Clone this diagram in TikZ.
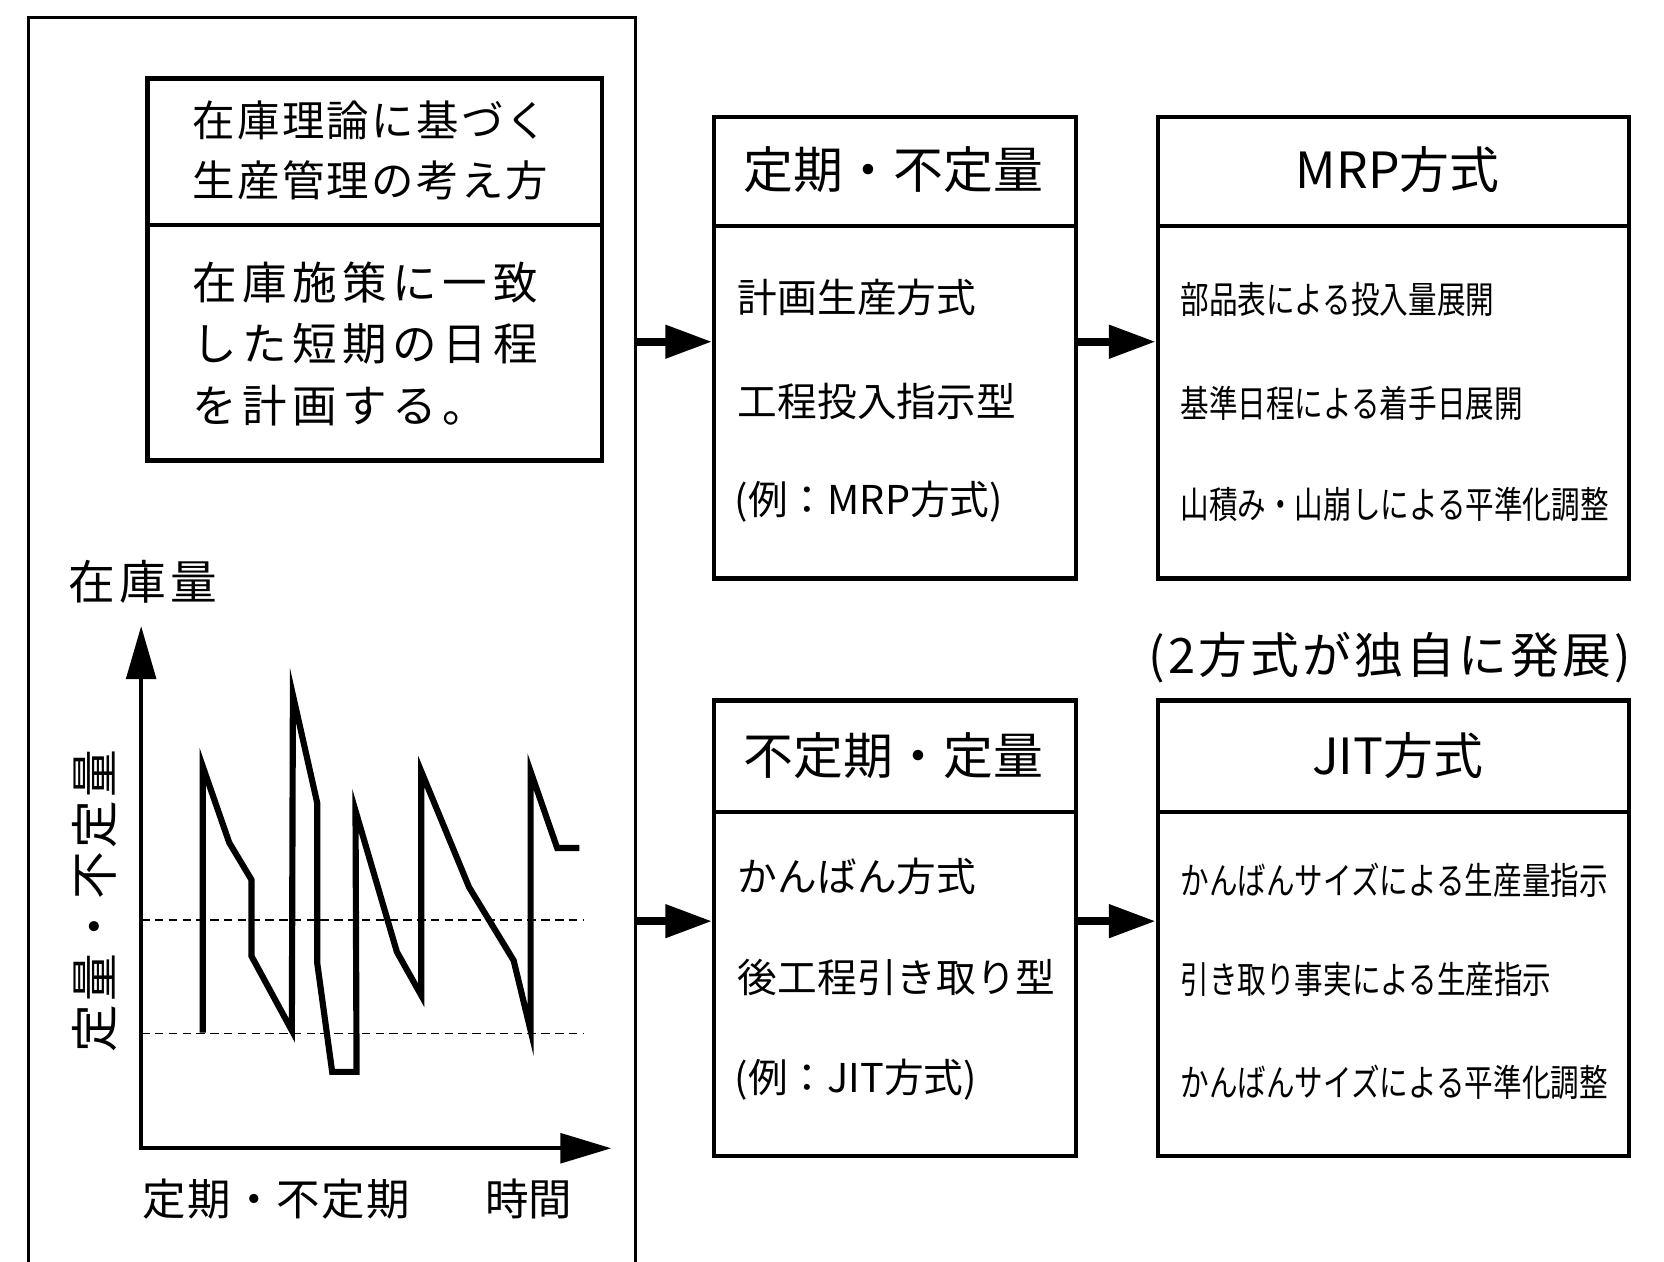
\documentclass[tikz,border=0pt]{standalone}
\usepackage{fontspec}
\usepackage{graphicx}
\setmainfont{Noto Sans CJK JP}
\usetikzlibrary{arrows.meta}
\makeatletter
\newcommand\trk[2]{\def\trk@gap{#1}\trk@loop#2\relax}
\def\trk@loop#1{\ifx#1\relax\else#1\hspace{\trk@gap}\expandafter\trk@loop\fi}
\makeatother
\newcommand\fsz[1]{\fontsize{#1}{#1}\selectfont}
\newcommand\cond[1]{\scalebox{0.77}[1]{\fsz{17.5pt}#1}}
\tikzset{
  boxline/.style={line width=2pt},
  frame/.style={draw, line width=2pt, inner sep=0pt, anchor=north west},
  txt/.style={inner sep=0pt, anchor=west},
  conn/.style={line width=3.8pt, -{Triangle[length=22pt,width=15pt]}},
  axis/.style={line width=1.8pt, {Triangle[length=25pt,width=14pt]}-{Triangle[length=24pt,width=14pt]}},
  zig/.style={line width=2.9pt, line join=miter},
  refline/.style={line width=0.6pt, dash pattern=on 4pt off 2.5pt},
}
\begin{document}
\begin{tikzpicture}[x=0.5pt,y=-0.5pt]
\useasboundingbox (0,0) rectangle (1568,1189);
\fill[white] (0,0) rectangle (1568,1189);
% outer frame (bottom edge beyond the page)
\node[draw, line width=1.6pt, inner sep=0pt, anchor=north west, minimum width=286pt, minimum height=622pt] (outer) at (25,15) {};
% left inner box
\node[frame, minimum width=214pt, minimum height=180pt] (A) at (137,72) {};
\draw[boxline] (A.west |- 0,212) -- (A.east |- 0,212);
\node[txt] (a1) at (181,113) {\fsz{20pt}\trk{1.1pt}{在庫理論に基づく}};
\node[txt] (a2) at (181,170) {\fsz{20pt}\trk{1.1pt}{生産管理の考え方}};
\node[txt] (a3) at (181,266) {\fsz{21pt}\trk{2.6pt}{在庫施策に一致}};
\node[txt] (a4) at (181,324) {\fsz{21pt}\trk{2.6pt}{した短期の日程}};
\node[txt] (a5) at (181,382) {\fsz{21pt}\trk{2.6pt}{を計画する。}};
% graph
\node[txt] (ylab) at (64,548) {\fsz{22pt}\trk{2pt}{在庫量}};
\node[inner sep=0pt, rotate=90] (yside) at (89,849) {\fsz{22.5pt}\trk{1.5pt}{定量・不定量}};
\node[txt] (xlab) at (134,1130) {\fsz{20.5pt}\trk{0.6pt}{定期・不定期}};
\node[txt] (tlab) at (457,1130) {\fsz{20.5pt}時間};
\coordinate (O) at (133,1082);
\coordinate (ytip) at (133,590);
\coordinate (xtip) at (576,1082);
\draw[refline] (133,867) -- (550,867);
\draw[refline] (133,974) -- (550,974);
\draw[axis] (ytip) -- (O) -- (xtip);
\draw[zig] (191,973) -- (191,722) -- (216,794) -- (237,829) -- (237,901) -- (275,971)
  -- (276,655) -- (299,757) -- (299,908) -- (313,1010) -- (336,1010) -- (335,764)
  -- (374,897) -- (397,938) -- (397,727) -- (442,836) -- (484,905) -- (500,971)
  -- (500,727) -- (525,799) -- (546,799);
% right boxes
\node[frame, minimum width=170.5pt, minimum height=217.5pt] (B) at (671,108) {};
\node[frame, minimum width=222pt, minimum height=217.5pt] (C) at (1089,108) {};
\node[frame, minimum width=170.5pt, minimum height=214.5pt] (D) at (671,658) {};
\node[frame, minimum width=222pt, minimum height=214.5pt] (E) at (1089,658) {};
\draw[boxline] (B.west |- 0,213) -- (B.east |- 0,213);
\draw[boxline] (C.west |- 0,213) -- (C.east |- 0,213);
\draw[boxline] (D.west |- 0,765) -- (D.east |- 0,765);
\draw[boxline] (E.west |- 0,765) -- (E.east |- 0,765);
\node[inner sep=0pt] (bh) at (842,160) {\fsz{23.5pt}定期・不定量};
\node[inner sep=0pt] (ch) at (1317,160) {\fsz{23.5pt}MRP方式};
\node[inner sep=0pt] (dh) at (842,712) {\fsz{23.5pt}不定期・定量};
\node[inner sep=0pt] (eh) at (1317,712) {\fsz{23.5pt}JIT方式};
\node[txt] (b1) at (695,280) {\fsz{18.7pt}計画生産方式};
\node[txt] (b2) at (695,378) {\fsz{18.7pt}工程投入指示型};
\node[txt] (b3) at (692,473) {\fsz{18.7pt}(例：MRP方式)};
\node[txt] (d1) at (695,826) {\fsz{18.7pt}かんばん方式};
\node[txt] (d2) at (695,921) {\fsz{18.7pt}後工程引き取り型};
\node[txt] (d3) at (692,1017) {\fsz{18.7pt}(例：JIT方式)};
\node[txt] (c1) at (1112,282) {\cond{部品表による投入量展開}};
\node[txt] (c2) at (1112,380) {\cond{基準日程による着手日展開}};
\node[txt] (c3) at (1112,475) {\cond{山積み・山崩しによる平準化調整}};
\node[txt] (e1) at (1112,829) {\cond{かんばんサイズによる生産量指示}};
\node[txt] (e2) at (1112,923) {\cond{引き取り事実による生産指示}};
\node[txt] (e3) at (1112,1020) {\cond{かんばんサイズによる平準化調整}};
\node[inner sep=0pt] (note) at (1310,620) {\fsz{23pt}\trk{1.5pt}{(2方式が独自に発展)}};
% connectors
\coordinate (up) at (0,322);
\coordinate (lo) at (0,868);
\draw[conn] (outer.east |- up) -- (B.west |- up);
\draw[conn] (B.east |- up) -- (C.west |- up);
\draw[conn] (outer.east |- lo) -- (D.west |- lo);
\draw[conn] (D.east |- lo) -- (E.west |- lo);
\end{tikzpicture}
\end{document}
